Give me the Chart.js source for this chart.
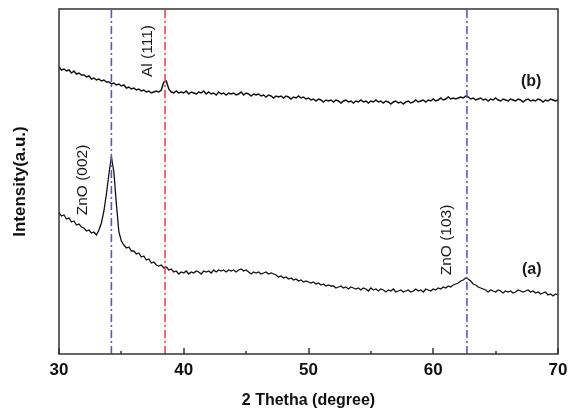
<!DOCTYPE html>
<html>
<head>
<meta charset="utf-8">
<script src="https://cdn.jsdelivr.net/npm/chart.js@4"></script>
<style>
  html, body { margin: 0; padding: 0; background: #fff; }
  canvas { display: block; }
</style>
</head>
<body>
<canvas id="xrd" width="568" height="413"></canvas>
<script>
// 2-theta grid, 30..70 in 0.2 deg steps
const twoTheta = [];
for (let i = 0; i <= 200; i++) twoTheta.push(+(30 + i * 0.2).toFixed(1));

// curve (a): ZnO film (arbitrary units)
const curveA = [
  141,138,139,135,136,132,133,129,130,127,
  126,123,124,121,122,119,124,131,143,160,
  180,197,182,150,122,113,109,106,107,103,
  103,100,101,97,98,94,95,91,92,89,
  88,89,86,87,84,85,82,83,80,82,
  81,83,80,82,81,83,82,80,83,82,
  83,81,84,82,84,83,84,82,84,83,
  84,82,84,85,83,84,82,80,82,81,
  82,80,81,82,80,81,80,79,77,78,
  76,77,75,76,74,75,73,74,72,73,
  72,71,72,70,71,69,70,68,69,68,
  68,66,67,68,66,67,65,67,66,65,
  66,64,66,65,63,66,64,65,63,65,
  64,62,64,63,65,62,63,64,62,63,
  64,62,63,65,63,64,62,65,64,63,
  65,64,66,65,67,66,68,67,69,70,
  71,73,74,76,75,73,70,69,67,66,
  65,64,62,64,63,62,64,63,61,63,
  62,63,61,62,64,63,62,63,64,62,
  63,61,62,60,61,62,59,60,58,60,
  59
];

// curve (b): Al-doped film
const curveB = [
  287,284,285,283,284,281,283,280,281,279,
  279,277,278,275,276,274,275,273,274,272,
  272,270,271,269,270,268,269,266,267,265,
  266,264,265,263,264,262,263,261,262,263,
  262,264,272,273,265,262,261,263,261,262,
  261,263,260,262,261,260,262,261,263,260,
  262,260,261,259,262,260,261,259,261,260,
  261,259,260,262,259,261,260,258,260,259,
  260,258,259,257,259,258,256,258,257,258,
  256,258,257,255,257,256,258,256,257,255,
  256,254,255,253,255,254,252,254,253,254,
  252,254,253,251,253,254,252,253,251,253,
  252,254,252,253,251,253,252,254,252,253,
  251,253,252,250,252,253,251,252,250,252,
  253,251,252,254,252,253,254,252,254,253,
  255,253,254,256,254,255,257,255,256,255,
  256,257,256,258,257,255,256,254,255,256,
  254,255,253,255,254,256,254,253,255,254,
  253,255,254,253,255,254,252,254,255,253,
  254,253,255,254,252,254,253,255,254,253,
  254
];

// reference peak positions
const peakZnO002 = 34.2;
const peakAl111 = 38.5;
const peakZnO103 = 62.7;
const yMin = 0, yMax = 345;

const xTicks = [30, 40, 50, 60, 70];
const xMinorTicks = [35, 45, 55, 65];

const labels = [
  { text: 'ZnO (002)', x: 31.9, y: 174, rot: true, bold: false },
  { text: 'Al (111)', x: 37.1, y: 303, rot: true, bold: false },
  { text: 'ZnO (103)', x: 61.1, y: 114, rot: true, bold: false },
  { text: '(a)', x: 67.9, y: 84, rot: false, bold: true },
  { text: '(b)', x: 67.85, y: 272, rot: false, bold: true }
];

const FONT = "'Liberation Sans', Arial, sans-serif";

function toPoints(xs, ys) { return xs.map((x, i) => ({ x, y: ys[i] })); }
function vline(x) { return [{ x, y: yMin }, { x, y: yMax }]; }

const framePlugin = {
  id: 'frame',
  afterDatasetsDraw(chart) {
    const { ctx, chartArea: a, scales } = chart;
    const xs = scales.x, ys = scales.y;
    ctx.save();
    ctx.strokeStyle = '#333';
    ctx.lineWidth = 1.5;
    ctx.strokeRect(a.left, a.top, a.right - a.left, a.bottom - a.top);
    ctx.beginPath();
    for (const t of xTicks) { const px = Math.round(xs.getPixelForValue(t)); ctx.moveTo(px, a.bottom); ctx.lineTo(px, a.bottom - 6); }
    for (const t of xMinorTicks) { const px = Math.round(xs.getPixelForValue(t)); ctx.moveTo(px, a.bottom); ctx.lineTo(px, a.bottom - 3); }
    ctx.stroke();
    for (const l of labels) {
      const px = xs.getPixelForValue(l.x), py = ys.getPixelForValue(l.y);
      ctx.save();
      ctx.translate(px, py);
      if (l.rot) ctx.rotate(-Math.PI / 2);
      ctx.font = (l.bold ? 'bold 16px ' : '15.5px ') + FONT;
      ctx.fillStyle = '#1a1a1a';
      ctx.textAlign = 'center';
      ctx.textBaseline = 'middle';
      ctx.fillText(l.text, 0, 0);
      ctx.restore();
    }
    ctx.restore();
  }
};

new Chart(document.getElementById('xrd'), {
  type: 'line',
  data: {
    datasets: [
      { data: vline(peakZnO002), borderColor: '#5a5ab4', borderWidth: 1.6, borderDash: [8, 3, 2, 3], pointRadius: 0 },
      { data: vline(peakAl111), borderColor: '#e5484c', borderWidth: 1.6, borderDash: [8, 3, 2, 3], pointRadius: 0 },
      { data: vline(peakZnO103), borderColor: '#5a5ab4', borderWidth: 1.6, borderDash: [8, 3, 2, 3], pointRadius: 0 },
      { data: toPoints(twoTheta, curveA), borderColor: '#111', borderWidth: 1.3, pointRadius: 0, tension: 0 },
      { data: toPoints(twoTheta, curveB), borderColor: '#111', borderWidth: 1.5, pointRadius: 0, tension: 0 }
    ]
  },
  options: {
    responsive: false,
    animation: false,
    devicePixelRatio: 1,
    layout: { padding: { top: 9, right: 10, left: 0, bottom: 0 } },
    plugins: { legend: { display: false }, tooltip: { enabled: false } },
    scales: {
      x: {
        type: 'linear', min: 30, max: 70,
        grid: { display: false, drawTicks: false },
        border: { display: false },
        ticks: { stepSize: 10, padding: 6, color: '#111', font: { family: FONT, size: 17, weight: 'bold' } },
        title: { display: true, text: '2 Thetha (degree)', color: '#111', padding: { top: 0, bottom: 3 }, font: { family: FONT, size: 16, weight: 'bold' } },
        afterFit(s) { s.height = 59; s.paddingLeft = 0; s.paddingRight = 0; }
      },
      y: {
        type: 'linear', min: yMin, max: yMax,
        grid: { display: false, drawTicks: false },
        border: { display: false },
        ticks: { display: false },
        title: { display: true, text: 'Intensity(a.u.)', color: '#111', padding: { top: 10, bottom: 0 }, font: { family: FONT, size: 17, weight: 'bold' } },
        afterFit(s) { s.width = 59; s.paddingTop = 0; s.paddingBottom = 0; }
      }
    }
  },
  plugins: [framePlugin]
});
</script>
</body>
</html>
